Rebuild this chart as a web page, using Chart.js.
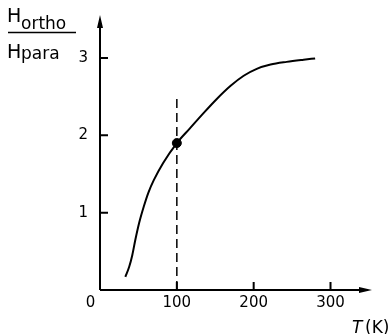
<!DOCTYPE html>
<html>
<head>
  <meta charset="UTF-8">
  <title>H ortho / H para vs T</title>
  <script src="https://cdn.jsdelivr.net/npm/chart.js"></script>
  <style>
    body { margin: 0; background: #fff; }
    #wrap { width: 391px; height: 334px; }
  </style>
</head>
<body>
  <div id="wrap"><canvas id="graph"></canvas></div>

  <script>
    // curve
    const tempK = [33, 38, 42, 46, 51, 57, 63, 70, 82, 100, 117, 135, 152, 170, 187, 204, 222, 243, 265, 280];
    const ratio = [0.17, 0.3, 0.45, 0.65, 0.87, 1.08, 1.26, 1.42, 1.64, 1.9, 2.09, 2.29, 2.47, 2.64, 2.77, 2.86, 2.915, 2.95, 2.978, 2.995];
    const markT = [100];
    const markH = [1.9];
    const dashT = [100, 100];
    const dashH = [0, 2.52];
    const xTicks = [0, 100, 200, 300];
    const yTicks = [1, 2, 3];

    const toPts = (xs, ys) => xs.map((x, i) => ({ x: x, y: ys[i] }));
    const font = "'DejaVu Sans', sans-serif";
    Chart.defaults.font.family = font;
    Chart.defaults.font.size = 15;
    Chart.defaults.color = '#000';

    const axesPlugin = {
      id: 'axes',
      afterDatasetsDraw(chart) {
        const c = chart.ctx, xs = chart.scales.x, ys = chart.scales.y;
        const x0 = xs.getPixelForValue(0), y0 = ys.getPixelForValue(0);
        const xe = xs.right, yt = ys.top;
        c.save();
        c.strokeStyle = '#000'; c.fillStyle = '#000'; c.lineWidth = 2;
        c.beginPath();
        c.moveTo(x0, y0); c.lineTo(xe - 4, y0);
        c.moveTo(x0, y0); c.lineTo(x0, yt + 4);
        yTicks.forEach(v => { const p = ys.getPixelForValue(v); c.moveTo(x0, p); c.lineTo(x0 + 8, p); });
        xTicks.slice(1).forEach(v => { const p = xs.getPixelForValue(v); c.moveTo(p, y0); c.lineTo(p, y0 - 8); });
        c.stroke();
        // arrow heads
        c.beginPath();
        c.moveTo(xe, y0); c.lineTo(xe - 13, y0 - 3); c.lineTo(xe - 13, y0 + 3); c.closePath();
        c.moveTo(x0, yt); c.lineTo(x0 - 3, yt + 13); c.lineTo(x0 + 3, yt + 13); c.closePath();
        c.fill();
        // y title as fraction
        c.textBaseline = 'alphabetic';
        c.font = '19px ' + font;
        c.fillText('H', 7, 22);
        c.fillText('H', 7, 58);
        c.font = '17px ' + font;
        c.fillText('ortho', 21, 29);
        c.fillText('para', 21, 59);
        c.lineWidth = 1.5;
        c.beginPath(); c.moveTo(8, 32.5); c.lineTo(76, 32.5); c.stroke();
        // x title
        c.font = 'italic 17px ' + font;
        c.fillText('T', 352, 333);
        c.font = '17px ' + font;
        c.fillText('(K)', 365, 333);
        c.restore();
      }
    };

    new Chart(document.getElementById('graph'), {
      type: 'scatter',
      data: {
        datasets: [
          {
            data: toPts(tempK, ratio), showLine: true, borderColor: '#000', borderWidth: 2,
            pointRadius: 0, cubicInterpolationMode: 'monotone'
          },
          {
            data: toPts(dashT, dashH), showLine: true, borderColor: '#000', borderWidth: 1.5,
            borderDash: [9, 5], pointRadius: 0
          },
          {
            data: toPts(markT, markH), pointRadius: 4.5, backgroundColor: '#000', borderColor: '#000'
          }
        ]
      },
      options: {
        responsive: true,
        maintainAspectRatio: false,
        animation: false,
        layout: { padding: { left: 0, right: 19, top: 15, bottom: 0 } },
        plugins: { legend: { display: false }, tooltip: { enabled: false } },
        scales: {
          x: {
            type: 'linear', min: 0, max: 354,
            grid: { display: false, drawTicks: false }, border: { display: false },
            afterBuildTicks: s => { s.ticks = xTicks.map(v => ({ value: v })); },
            afterFit: s => { s.height = 44; s.paddingLeft = 0; s.paddingRight = 0; },
            ticks: {
              color: '#000', padding: 4, maxRotation: 0, autoSkip: false,
              font: { family: font, size: 15 },
              callback: v => v === 0 ? '0\u00a0\u00a0\u00a0\u00a0' : String(v)
            }
          },
          y: {
            type: 'linear', min: 0, max: 3.556,
            grid: { display: false, drawTicks: false }, border: { display: false },
            afterBuildTicks: s => { s.ticks = yTicks.map(v => ({ value: v })); },
            afterFit: s => { s.width = 100; s.paddingTop = 0; s.paddingBottom = 0; },
            ticks: { color: '#000', padding: 12, font: { family: font, size: 15 } }
          }
        }
      },
      plugins: [axesPlugin]
    });
  </script>
</body>
</html>
